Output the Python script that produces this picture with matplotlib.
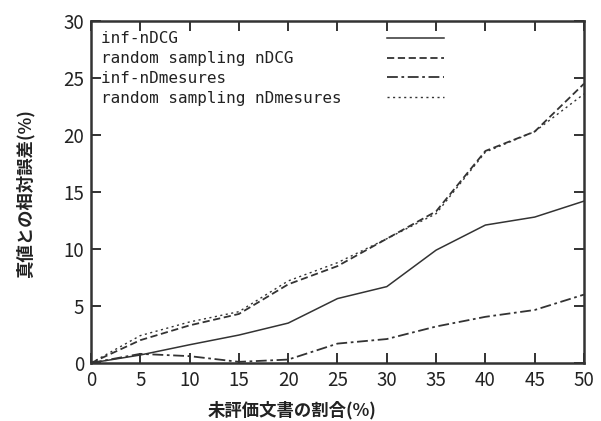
import matplotlib
matplotlib.use("Agg")
import matplotlib.pyplot as plt

### Data ###
x = [0, 5, 10, 15, 20, 25, 30, 35, 40, 45, 50]
infNDCG = [0, 0.7, 1.6, 2.45, 3.5, 5.65, 6.7, 9.9, 12.1, 12.8, 14.2]
randomNDCG = [0, 2.0, 3.3, 4.3, 6.9, 8.5, 10.9, 13.3, 18.6, 20.3, 24.5]
infNDmesures = [0, 0.8, 0.6, 0.1, 0.3, 1.7, 2.1, 3.2, 4.05, 4.65, 6.0]
randomNDmesures = [0, 2.4, 3.6, 4.5, 7.2, 8.8, 10.9, 13.1, 18.5, 20.3, 23.6]

seriesNames = ["inf-nDCG", "random sampling nDCG", "inf-nDmesures", "random sampling nDmesures"]
xTicks = [0, 5, 10, 15, 20, 25, 30, 35, 40, 45, 50]
yTicks = [0, 5, 10, 15, 20, 25, 30]
xLabel = "未評価文書の割合(%)"
yLabel = "真値との相対誤差(%)"

jpFont = ['Noto Sans CJK JP', 'DejaVu Sans']
lineColor = '#333333'

fig = plt.figure(figsize=(6.01, 4.21), dpi=100, facecolor='w')
ax = fig.add_axes([0.1514, 0.1378, 0.8203, 0.8123])

ax.plot(x, infNDCG, color=lineColor, linewidth=1.1, linestyle='-', label=seriesNames[0])
ax.plot(x, randomNDCG, color=lineColor, linewidth=1.3, linestyle=(0, (4, 2)), label=seriesNames[1])
ax.plot(x, infNDmesures, color=lineColor, linewidth=1.3, linestyle=(0, (6, 2, 1.5, 2)), label=seriesNames[2])
ax.plot(x, randomNDmesures, color=lineColor, linewidth=1.0, linestyle=(0, (1.5, 2.5)), label=seriesNames[3])

# limits and ticks
ax.set_xlim(0, 50)
ax.set_ylim(0, 30)
ax.set_xticks(xTicks)
ax.set_yticks(yTicks)
ax.tick_params(direction='in', length=7, width=1.3, top=True, right=True,
	labelsize=13.5, pad=5, colors='#222222')
for label in (ax.get_xticklabels() + ax.get_yticklabels()):
	label.set_family(jpFont)

for spine in ax.spines.values():
	spine.set_linewidth(1.8)
	spine.set_color('#333333')

# axis labels
ax.set_xlabel(xLabel, family=jpFont, fontsize=12.5, weight='bold', color='#222222')
ax.set_ylabel(yLabel, family=jpFont, fontsize=12.5, weight='bold', color='#222222')
ax.xaxis.set_label_coords(0.408, -0.112)
ax.yaxis.set_label_coords(-0.115, 0.496)

# gnuplot style key: text first (left aligned), sample line after
width = max(len(name) for name in seriesNames)
keyNames = [name.ljust(width) for name in seriesNames]
handles, labels = ax.get_legend_handles_labels()
lgd = ax.legend(handles, keyNames, loc='upper left', bbox_to_anchor=(0.0, 1.0), frameon=False,
	markerfirst=False, handlelength=3.6, handletextpad=2.8, labelspacing=0.3,
	borderaxespad=0.25, prop={'family': 'DejaVu Sans Mono', 'size': 11.5})
for text in lgd.get_texts():
	text.set_color('#222222')

plt.savefig("out.png", dpi=100)
plt.close(fig)
